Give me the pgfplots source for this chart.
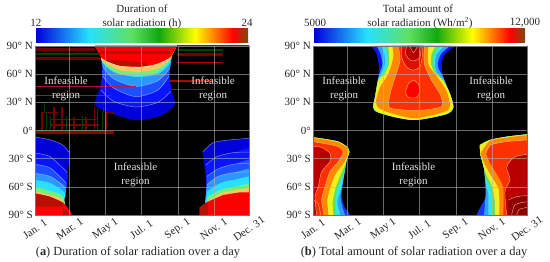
\documentclass[border=0pt]{standalone}
\usepackage{fontspec}
\setmainfont{Liberation Serif}
\usepackage{pgfplots}
\pgfplotsset{compat=1.18}
\definecolor{b0}{HTML}{0000D8}\definecolor{b1}{HTML}{0A14FF}\definecolor{b2}{HTML}{1C50FF}
\definecolor{sk}{HTML}{2C98FF}\definecolor{cy}{HTML}{28E0FF}\definecolor{gr}{HTML}{70F080}
\definecolor{pe}{HTML}{F8C860}\definecolor{rd}{HTML}{FF0000}\definecolor{dr}{HTML}{B81000}
\definecolor{tb}{HTML}{1838F0}\definecolor{ts}{HTML}{30A0FF}\definecolor{tc}{HTML}{30E8F0}
\definecolor{tg}{HTML}{60E060}\definecolor{ty}{HTML}{F0F020}\definecolor{to}{HTML}{FF8A00}
\definecolor{tr}{HTML}{FF3000}\definecolor{tR}{HTML}{E01000}\definecolor{td}{HTML}{B80000}\definecolor{tD}{HTML}{8C0000}
\definecolor{ck}{HTML}{C01040}\definecolor{br}{HTML}{7A4A10}\definecolor{bg}{HTML}{10A810}
\pgfdeclarehorizontalshading{jetbar}{100bp}{color(0bp)=(b0);color(25bp)=(b0);color(37.5bp)=(cy);color(47.5bp)=(tg);color(54bp)=(bg);color(62.5bp)=(yellow);color(67bp)=(orange);color(71.5bp)=(red);color(75bp)=(br);color(100bp)=(br)}
\tikzset{lbl/.style={font=\fontsize{11}{14}\selectfont,align=center,text=white!90!black,inner sep=0pt}}
\pgfplotsset{
  heat/.style={scale only axis,width=214pt,height=169pt,anchor=south west,
    xmin=1,xmax=365,ymin=-90,ymax=90,axis on top,
    axis background/.style={fill=black},
    xtick={1,60,121,182,244,305,365},
    xticklabels={Jan. 1,Mar. 1,May 1,Jul. 1,Sep. 1,Nov. 1,Dec. 31},
    ytick={-90,-60,-30,0,30,60,90},
    yticklabels={90° S,60° S,30° S,0°,30° N,60° N,90° N},
    major tick length=0pt,
    grid=major,grid style={white!70!black,line width=.4pt,opacity=.6},
    axis line style={black!55,line width=.3pt},
    tick label style={font=\fontsize{11}{13}\selectfont,text=black!85},
    xticklabel style={anchor=center,yshift=-14pt,rotate=35,inner sep=0pt},
    yticklabel style={inner sep=2pt},
    unbounded coords=jump},
  pg/.style={fill=#1,draw=none,smooth,tension=.45},
  ct/.style={color=white!70!blue,line width=.5pt,opacity=.7,smooth,tension=.45},
  cr/.style={color=white!55!orange,line width=.5pt,opacity=.75,smooth,tension=.45}
}
\begin{document}
\begin{tikzpicture}[x=1pt,y=1pt]
\useasboundingbox (0,0) rectangle (550,262);
% ---------- left
\begin{axis}[heat,at={(35pt,47pt)}]
% northern lobe
\addplot[pg=b0] coordinates {(103,90)(113,80)(116,69)(116,60)(112,46)(103,28)(124,20)(173,11)(215,16)(239,28)(233,42)(229,60)(230,73)(234,80)(242,90)} --cycle;
\addplot[pg=b1] coordinates {(103,90)(113,80)(116,69)(116,60)(113,43)(135,31)(173,25)(210,30)(232,42)(229,60)(230,73)(234,80)(242,90)} --cycle;
\addplot[pg=b2] coordinates {(103,90)(113,80)(116,69)(116,58)(135,45)(173,36)(210,43)(229,58)(230,73)(234,80)(242,90)} --cycle;
\addplot[pg=sk] coordinates {(103,90)(113,80)(116,68)(135,55)(173,47)(210,53)(230,66)(234,80)(242,90)} --cycle;
\addplot[pg=cy] coordinates {(103,90)(113,80)(116,72)(135,62)(173,57)(210,60)(230,71)(234,80)(242,90)} --cycle;
\addplot[pg=gr] coordinates {(103,90)(113,80)(115,74)(125,67)(146,60)(180,58)(210,62)(230,74)(234,80)(242,90)} --cycle;
\addplot[pg=pe] coordinates {(103,90)(113,80)(114,75)(125,70)(146,64)(180,62.5)(210,66)(230,75)(234,80)(242,90)} --cycle;
\addplot[pg=rd] coordinates {(103,90)(113,78)(123,74)(146,69)(180,68)(208,71)(231,78)(242,90)} --cycle;
\addplot[fill=dr,draw=none] coordinates {(120,74)(146,69)(180,68)(190,69)(190,72)(120,76)} --cycle;
\addplot[fill=dr,draw=none] coordinates {(112,82)(231,82)(231,85)(112,85)} --cycle;
\addplot[ct] coordinates {(113,43)(135,31)(173,25)(210,30)(232,42)};
\addplot[ct] coordinates {(116,58)(135,45)(173,36)(210,43)(229,58)};
\addplot[ct] coordinates {(116,68)(135,55)(173,47)(210,53)(230,66)};
\addplot[color=white!60!orange,line width=.8pt,smooth,tension=.45] coordinates {(113,77)(123,73)(146,68)(180,67)(208,70)(231,77)};
% southern left
\addplot[pg=b0] coordinates {(-10,-6)(1,-7)(27,-10)(47,-15)(60,-24)(56,-45)(52,-66)(49,-78)(49,-110)(-10,-110)} --cycle;
\addplot[pg=b1] coordinates {(-10,-23.5)(1,-24)(27,-28)(56,-45)(52,-66)(49,-78)(49,-110)(-10,-110)} --cycle;
\addplot[pg=b2] coordinates {(-10,-35)(1,-36)(27,-40)(54,-56)(52,-66)(49,-78)(49,-110)(-10,-110)} --cycle;
\addplot[pg=sk] coordinates {(-10,-45)(1,-45.6)(27,-49)(53,-61)(50,-78)(49,-110)(-10,-110)} --cycle;
\addplot[pg=cy] coordinates {(-10,-52)(1,-52.7)(27,-56)(52,-66.6)(49,-78)(49,-110)(-10,-110)} --cycle;
\addplot[pg=gr] coordinates {(-10,-59)(1,-60)(21,-63.4)(50,-72)(49,-110)(-10,-110)} --cycle;
\addplot[pg=pe] coordinates {(-10,-65)(1,-65.2)(27,-68.7)(49,-76)(55,-110)(-10,-110)} --cycle;
\addplot[pg=rd] coordinates {(-10,-66)(1,-67)(26,-70.5)(49,-77)(58,-84)(64,-90)(64,-110)(-10,-110)} --cycle;
\addplot[ct] coordinates {(1,-7)(27,-10)(47,-15)(60,-24)};
\addplot[ct] coordinates {(1,-24)(27,-28)(56,-45)};
\addplot[ct] coordinates {(1,-36)(27,-40)(54,-56)};
\addplot[ct] coordinates {(1,-45.6)(27,-49)(53,-61)};
\addplot[fill=dr,draw=none] coordinates {(1,-67)(26,-70.5)(49,-77)(49,-81)(1,-81)} --cycle;
\addplot[fill=dr,draw=none] coordinates {(49,-83)(64,-90)(49,-90)} --cycle;
% southern right
\addplot[pg=b0] coordinates {(286,-23)(304,-13)(333,-10)(365,-8.3)(380,-8)(380,-110)(282,-110)(290,-80)(293,-61)(290,-42)} --cycle;
\addplot[pg=b1] coordinates {(291,-37)(310,-28)(338,-23.6)(380,-23)(380,-110)(282,-110)(290,-80)(293,-61)} --cycle;
\addplot[pg=b2] coordinates {(293,-49)(312,-41)(338,-36)(380,-35)(380,-110)(282,-110)(290,-80)(293,-61)} --cycle;
\addplot[pg=sk] coordinates {(293,-58)(312,-49)(338,-45)(380,-44)(380,-110)(282,-110)(290,-80)} --cycle;
\addplot[pg=cy] coordinates {(293.6,-65)(316,-56)(338,-52.7)(380,-52)(380,-110)(282,-110)(290,-80)} --cycle;
\addplot[pg=gr] coordinates {(295,-70.5)(316,-63.4)(338,-60)(380,-59)(380,-110)(282,-110)} --cycle;
\addplot[pg=pe] coordinates {(293.6,-76)(316,-67)(338,-64)(380,-63.4)(380,-110)(282,-110)} --cycle;
\addplot[fill=rd,draw=none] coordinates {(281,-82)(295,-75.8)(321,-68.7)(350,-65.8)(380,-65.8)(380,-110)(281,-110)} --cycle;
\addplot[ct] coordinates {(286,-23)(304,-13)(333,-10)(365,-8.3)};
\addplot[ct] coordinates {(291,-37)(310,-28)(338,-23.6)(365,-23)};
\addplot[ct] coordinates {(293,-49)(312,-41)(338,-36)(365,-35)};
\addplot[ct] coordinates {(293,-58)(312,-49)(338,-45)(365,-44)};
\addplot[fill=dr,draw=none] coordinates {(281,-82)(295,-75.8)(295,-90)(281,-90)} --cycle;
% horizontal streaks
\addplot[color=red!45!black,line width=3pt] coordinates {(1,86.8)(103,86.8)(nan,nan)(1,76.2)(112,76.2)(nan,nan)(243,81)(321,81)};
\addplot[color=green!25!black,line width=2.5pt] coordinates {(1,81.5)(112,81.5)(nan,nan)(243,85.7)(321,85.7)};
\addplot[color=red!70!black,line width=1.8pt] coordinates {(243,72.4)(321,72.4)(nan,nan)(231,52.7)(304,52.7)(nan,nan)(231,43.7)(290,43.7)(nan,nan)(243,89.7)(365,89.7)};
\addplot[color=ck,line width=1pt,opacity=.9] coordinates {(1,47)(172,47)(nan,nan)(1,37.8)(130,37.8)};
\addplot[color=red!45!black,line width=1.4pt] coordinates {(13,20)(13,1)(nan,nan)(33,25)(33,1)(nan,nan)(47,25)(47,1)(nan,nan)(67,14)(67,1)(nan,nan)(88,14)(88,1)(nan,nan)(102,25)(102,1)(nan,nan)(122,20)(122,1)(nan,nan)(14,19)(40,19)(nan,nan)(120,19)(137,19)(nan,nan)(27,6)(110,6)};
\addplot[color=green!25!black,line width=1pt] coordinates {(20,20)(20,1)(nan,nan)(27,15)(27,1)(nan,nan)(54,15)(54,1)(nan,nan)(81,15)(81,1)(nan,nan)(108,24)(108,1)(nan,nan)(116,20)(116,1)(nan,nan)(1,0.5)(122,0.5)(nan,nan)(18,30)(18,20)(nan,nan)(118,30)(118,20)(nan,nan)(27,12)(108,12)};
\addplot[color=red!55!black,line width=3pt] coordinates {(1,-2)(135,-2)};
\addplot[color=green!30!black,line width=1pt] coordinates {(20,-3)(120,-3)};
\node[lbl] at (axis cs:54,44.5) {Infeasible\\region};
\node[lbl] at (axis cs:304,44.5) {Infeasible\\region};
\node[lbl] at (axis cs:172,-47) {Infeasible\\region};
\end{axis}
% ---------- right
\begin{axis}[heat,at={(313pt,47pt)}]
\addplot[pg=b1] coordinates {(99.7,90)(109.3,81.5)(113.3,67.3)(112.1,56.6)(106.5,35.3)(103.6,24.7)(112.1,19.3)(140.5,14)(171.7,11.2)(202.9,14)(228.4,17.6)(239.7,24.7)(234,38.9)(222.7,56.6)(219.9,70.8)(225.5,81.5)(243.7,90)} --cycle;
\addplot[pg=ts] coordinates {(109.3,90)(116,81.5)(119,70.8)(115,62)(112.1,56.6)(106.5,35.3)(103.6,24.7)(112.1,19.3)(171.7,11.2)(228.4,17.6)(239.7,24.7)(234,38.9)(222.7,56.6)(216,64)(213,70.8)(218.7,81.5)(234,90)} --cycle;
\addplot[pg=tc] coordinates {(117.8,90)(122.3,81.5)(123.5,70.8)(116.7,60.2)(112,55)(106.5,35.3)(103.6,24.7)(112.1,19.3)(171.7,11.2)(228.4,17.6)(239.7,24.7)(234,38.9)(221,55)(211.4,62)(208.5,70.8)(211.4,81.5)(225.5,90)} --cycle;
\addplot[pg=tg] coordinates {(123.5,90)(127,81.5)(128,70.8)(120.6,61)(112,54)(106.5,35.3)(103.6,24.7)(112.1,19.3)(171.7,11.2)(228.4,17.6)(239.7,24.7)(234,38.9)(221.6,54)(209.6,62)(205.7,70.8)(207.4,81.5)(217,90)} --cycle;
\addplot[pg=ty] coordinates {(129,90)(130.3,81.5)(130.3,70.8)(123.5,61)(112,53)(106.5,35.3)(103.6,24.7)(112.1,19.3)(140.5,14)(171.7,11.2)(202.9,14)(228.4,17.6)(239.7,24.7)(234,38.9)(222.7,53)(208.5,61)(201.7,70.8)(202.9,81.5)(209.7,90)} --cycle;
\addplot[pg=to] coordinates {(136,90)(137.6,78)(129.1,60.2)(115,46)(108,30)(118,22)(171.7,13)(225,20)(234,26.5)(228,42.4)(213,56.6)(197.2,70.8)(197.2,90)} --cycle;
\addplot[pg=tr] coordinates {(146.2,90)(149,74.4)(140.5,56.6)(132,38.9)(130.3,24.7)(151.8,22.2)(171.7,21.1)(202.9,22.9)(221,26.5)(217,38.9)(202.9,53.1)(190.4,70.8)(190.4,90)} --cycle;
\addplot[pg=tR] coordinates {(152,90)(151.8,78)(160.3,67.3)(171.7,64.4)(183,68)(187,80)(186,90)} --cycle;
\addplot[pg=td] coordinates {(160.3,90)(158.6,81.5)(166,75)(174.5,74.4)(183,78)(184.7,90)} --cycle;
\addplot[pg=tD] coordinates {(166,90)(171.7,83)(179,90)} --cycle;
\addplot[pg=rd] coordinates {(171.7,53.8)(180.2,49.5)(183,42.4)(177.3,35.3)(163.2,35.3)(158.6,40.7)(163.2,49.5)} --cycle;
\addplot[cr] coordinates {(146.2,90)(149,74.4)(140.5,56.6)(132,38.9)(130.3,24.7)(151.8,22.2)(171.7,21.1)(202.9,22.9)(221,26.5)(217,38.9)(202.9,53.1)(190.4,70.8)(190.4,90)};
\addplot[cr] coordinates {(152,90)(151.8,78)(160.3,67.3)(171.7,64.4)(183,68)(187,80)(186,90)};
\addplot[cr] coordinates {(160.3,90)(158.6,81.5)(166,75)(174.5,74.4)(183,78)(184.7,90)};
\addplot[cr] coordinates {(166,90)(171.7,83)(179,90)};
\addplot[cr] coordinates {(171.7,53.8)(180.2,49.5)(183,42.4)(177.3,35.3)(163.2,35.3)(158.6,40.7)(163.2,49.5)(171.7,53.8)};
% south left
\addplot[pg=tb] coordinates {(-10,-7)(1,-7.3)(24.3,-9.4)(44,-11.9)(58.3,-17.2)(62.8,-22.5)(58.3,-31.4)(52.6,-52.7)(49.8,-70.5)(55.4,-82.9)(64,-90)(70,-110)(-10,-110)} --cycle;
\addplot[pg=ts] coordinates {(-10,-7)(1,-7.3)(24.3,-9.4)(44,-11.9)(58.3,-17.2)(62.8,-22.5)(58.3,-31.4)(52.6,-52.7)(48,-70.5)(51.5,-82.9)(55.4,-90)(58,-110)(-10,-110)} --cycle;
\addplot[pg=tc] coordinates {(-10,-7)(1,-7.3)(24.3,-9.4)(44,-11.9)(58.3,-17.2)(62.8,-22.5)(58.3,-31.4)(54.3,-45.6)(49.8,-59.8)(42.4,-75.8)(46.9,-90)(48,-110)(-10,-110)} --cycle;
\addplot[pg=tg] coordinates {(-10,-7)(1,-7.3)(24.3,-9.4)(44,-11.9)(58.3,-17.2)(62.8,-22.5)(58.3,-31.4)(54.3,-43.8)(44.1,-59.8)(38.4,-75.8)(41.3,-90)(42,-110)(-10,-110)} --cycle;
\addplot[pg=ty] coordinates {(-10,-7)(1,-7.3)(24.3,-9.4)(44,-11.9)(58.3,-17.2)(62.8,-22.5)(58.3,-31.4)(52.6,-40.3)(40.1,-59.8)(34.5,-75.8)(35.6,-90)(36,-110)(-10,-110)} --cycle;
\addplot[pg=to] coordinates {(-10,-8)(1,-8)(24.3,-10)(44.1,-12.8)(58,-17.8)(61.5,-22.5)(55,-33.2)(40.1,-45.6)(31,-59.8)(25.4,-74)(27.1,-90)(27,-110)(-10,-110)} --cycle;
\addplot[pg=tr] coordinates {(-10,-12)(1,-11.9)(24.3,-14.4)(44.1,-17.2)(52.6,-22.5)(44.1,-33.2)(29.9,-43.8)(21.4,-59.8)(15.7,-74)(19.7,-90)(20,-110)(-10,-110)} --cycle;
\addplot[pg=td] coordinates {(-10,-17)(1,-17.2)(15.7,-18)(29.9,-24.3)(29.9,-33.2)(15.7,-43.8)(10,-59.8)(4.4,-70.5)(7.2,-90)(7,-110)(-10,-110)} --cycle;
\addplot[cr] coordinates {(1,-11.9)(24.3,-14.4)(44.1,-17.2)(52.6,-22.5)(44.1,-33.2)(29.9,-43.8)(21.4,-59.8)(15.7,-74)(19.7,-90)};
\addplot[cr] coordinates {(1,-17.2)(15.7,-18)(29.9,-24.3)(29.9,-33.2)(15.7,-43.8)(10,-59.8)(4.4,-70.5)(7.2,-90)};
\addplot[cr] coordinates {(1,-74)(10,-78)(14,-90)};
% south right
\addplot[pg=tb] coordinates {(285,-15.4)(302,-10.1)(330.4,-6.6)(365,-4.1)(380,-3.5)(380,-110)(278,-110)(279.4,-90)(293.6,-72.2)(295.3,-58)(291.9,-40.3)(285.1,-24.3)} --cycle;
\addplot[pg=ts] coordinates {(285,-15.4)(302,-10.1)(330.4,-6.6)(365,-4.1)(380,-3.5)(380,-110)(291,-110)(292,-90)(293.6,-77)(294.7,-65)(291.9,-40.3)(285.1,-24.3)} --cycle;
\addplot[pg=tc] coordinates {(285,-15.4)(302,-10.1)(330.4,-6.6)(365,-4.1)(380,-3.5)(380,-110)(299,-110)(299.2,-90)(299.2,-77)(299.2,-67)(295.3,-58)(291.9,-40.3)(285.1,-24.3)} --cycle;
\addplot[pg=tg] coordinates {(285,-15.4)(302,-10.1)(330.4,-6.6)(365,-4.1)(380,-3.5)(380,-110)(305,-110)(304.9,-90)(304.9,-70.5)(302.1,-59.8)(294.1,-50.9)(291.9,-40.3)(285.1,-24.3)} --cycle;
\addplot[pg=ty] coordinates {(285,-15.4)(302,-10.1)(330.4,-6.6)(365,-4.1)(380,-3.5)(380,-110)(311,-110)(310.6,-90)(310.6,-77.5)(307.8,-65.1)(302.1,-54.5)(293.6,-43.8)(285.1,-24.3)} --cycle;
\addplot[pg=to] coordinates {(285.7,-24.3)(302,-11)(330.4,-7.5)(365,-5)(380,-5)(380,-110)(318,-110)(318,-90)(318,-75.8)(316.3,-61.6)(304.9,-49.2)(293.6,-36.7)} --cycle;
\addplot[pg=tr] coordinates {(295.3,-24.3)(303.2,-15.4)(330.4,-11.9)(365,-10.1)(380,-10)(380,-110)(324.8,-110)(324.8,-90)(324.8,-61.6)(316.3,-49.2)(302.1,-35)} --cycle;
\addplot[pg=td] coordinates {(333.3,-35)(344.6,-27.9)(365,-25.4)(380,-25)(380,-110)(330.4,-110)(330.4,-90)(327.6,-65)(336.1,-52.7)(330.4,-40.3)} --cycle;
\addplot[pg=tD] coordinates {(333.3,-74)(347.4,-70.5)(365,-69.4)(380,-69)(380,-110)(333,-110)} --cycle;
\addplot[cr] coordinates {(295.3,-24.3)(303.2,-15.4)(330.4,-11.9)(365,-10.1)};
\addplot[cr] coordinates {(333.3,-35)(344.6,-27.9)(365,-25.4)};
\addplot[cr] coordinates {(333.3,-35)(330.4,-40.3)(336.1,-52.7)(327.6,-65)(330.4,-90)};
\addplot[cr] coordinates {(333.3,-74)(347.4,-70.5)(365,-69.4)};
\addplot[cr] coordinates {(339,-90)(344.6,-79)(365,-76)};
\addplot[cr] coordinates {(347.4,-90)(352,-84)(365,-82)};
\node[lbl] at (axis cs:54,44.5) {Infeasible\\region};
\node[lbl] at (axis cs:304,44.5) {Infeasible\\region};
\node[lbl] at (axis cs:172,-47) {Infeasible\\region};
\end{axis}
% colour bars
\shade[shading=jetbar] (36,219) rectangle (248,233);
\shade[shading=jetbar] (314,219) rectangle (525,233);
% texts
\tikzset{tt/.style={font=\fontsize{11}{13}\selectfont,text=black!85,inner sep=0pt},
 cp/.style={font=\fontsize{12.4}{14}\selectfont,text=black!85,inner sep=0pt}}
\node[tt] at (142,253) {Duration of};
\node[tt] at (142,238.5) {solar radiation (h)};
\node[tt] at (36,239) {12};
\node[tt] at (247,239) {24};
\node[tt] at (418,253) {Total amount of};
\node[tt] at (420,238.5) {solar radiation (Wh/m\textsuperscript{2})};
\node[tt] at (315,239) {5000};
\node[tt] at (525,239) {12,000};
\node[cp] at (138,10) {(\textbf{a}) Duration of solar radiation over a day};
\node[cp] at (414,10) {(\textbf{b}) Total amount of solar radiation over a day};
\end{tikzpicture}
\end{document}
